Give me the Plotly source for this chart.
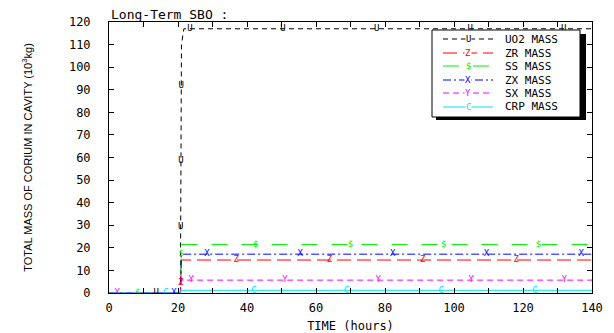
import numpy as np
import plotly.graph_objects as go

# ---- data (time in hours, mass in 10^3 kg) ----
uo2_t = [0, 20.7, 21.0, 21.7, 140]
uo2_y = [0, 0, 110, 117, 117]
uo2_mark_t = [13.7, 20.78, 20.86, 20.95, 23.5, 50.4, 77.6, 104.7, 131.8]

zr_t = [0, 20.7, 21.0, 140]
zr_y = [0, 0, 14.6, 14.6]
zr_mark_t = [20.79, 36.9, 63.9, 90.9, 118.0]

ss_t = [0, 20.7, 21.0, 140]
ss_y = [0, 0, 21.5, 21.5]
ss_mark_t = [8.3, 20.94, 42.5, 70.0, 97.0, 124.5]

zx_t = [0, 20.7, 21.0, 140]
zx_y = [0, 0, 17.2, 17.2]
zx_mark_t = [18.8, 28.4, 55.4, 82.2, 109.4, 136.9]

sx_t = [0, 20.7, 21.0, 140]
sx_y = [0, 0, 5.7, 5.7]
sx_mark_t = [2.4, 23.8, 51.0, 78.0, 105.0, 132.0]

crp_t = [0, 20.7, 21.0, 140]
crp_y = [0, 0, 1.2, 1.2]
crp_mark_t = [16.5, 42.0, 68.8, 96.3, 123.5]

series = [
    ("UO2 MASS", uo2_t, uo2_y, uo2_mark_t, "U", "#000000", "5px,4px"),
    ("ZR MASS", zr_t, zr_y, zr_mark_t, "Z", "#ff0000", "14px,6px"),
    ("SS MASS", ss_t, ss_y, ss_mark_t, "$", "#00ee00", "16px,14px"),
    ("ZX MASS", zx_t, zx_y, zx_mark_t, "X", "#0000ff", "8px,3px,2px,3px"),
    ("SX MASS", sx_t, sx_y, sx_mark_t, "Y", "#ff00ff", "6px,4px"),
    ("CRP MASS", crp_t, crp_y, crp_mark_t, "C", "#00e5ee", "solid"),
]

MONO = "DejaVu Sans Mono"
W, H = 614, 333
ML, MR, MT, MB = 109, 22, 22, 40
PW, PH = W - ML - MR, H - MT - MB


def px_x(px):
    return (px - ML) / PW


def px_y(py):
    return (H - MB - py) / PH


fig = go.Figure()
for name, t, y, mt, letter, color, dash in series:
    fig.add_trace(go.Scatter(
        x=t, y=y, mode="lines", name=name, showlegend=False,
        line=dict(color=color, width=1, dash=dash),
    ))
for name, t, y, mt, letter, color, dash in series:
    my = np.interp(mt, t, y)
    fig.add_trace(go.Scatter(
        x=mt, y=my, mode="text", text=[letter] * len(mt),
        textfont=dict(family=MONO, size=9, color=color),
        showlegend=False, hoverinfo="skip",
    ))

axis_common = dict(
    showline=True, linecolor="black", linewidth=1, mirror="allticks",
    ticks="inside", ticklen=5, tickcolor="black", showgrid=False,
    zeroline=False, automargin=False,
    tickfont=dict(family=MONO, size=12, color="black"),
)

fig.update_xaxes(
    range=[0, 140], tickvals=list(range(0, 141, 20)),
    minor=dict(dtick=10, ticks="inside", ticklen=5, tickcolor="black"),
    ticklabelstandoff=4,
    title=dict(text="TIME (hours)", font=dict(family=MONO, size=12, color="black"), standoff=11),
    **axis_common,
)
fig.update_yaxes(
    range=[0, 120], tickvals=list(range(0, 121, 10)),
    ticklabelstandoff=15,
    title=dict(text="TOTAL MASS OF CORIUM IN CAVITY (10<sup>3</sup>kg)",
               font=dict(family="Liberation Sans Narrow, Liberation Sans", size=11, color="black"),
               standoff=34),
    **axis_common,
)

fig.add_annotation(
    text="Long-Term SBO :", xref="paper", yref="paper", x=0, y=1,
    xanchor="left", yanchor="bottom", showarrow=False, yshift=-2,
    font=dict(family=MONO, size=13, color="black"),
)

# ---- legend drawn by hand (box, shadow, samples, labels) ----
fig.add_shape(type="rect", xref="paper", yref="paper",
              x0=px_x(436), x1=px_x(586), y0=px_y(120), y1=px_y(34),
              fillcolor="black", line=dict(width=0), layer="above")
fig.add_shape(type="rect", xref="paper", yref="paper",
              x0=px_x(432), x1=px_x(580), y0=px_y(117), y1=px_y(30),
              fillcolor="white", line=dict(color="black", width=1), layer="above")
row_py = [39, 53, 66, 80, 93, 107]
for (name, t, y, mt, letter, color, dash), ry in zip(series, row_py):
    fig.add_shape(type="line", xref="paper", yref="paper",
                  x0=px_x(443), x1=px_x(493), y0=px_y(ry), y1=px_y(ry),
                  line=dict(color=color, width=1, dash=dash), layer="above")
    fig.add_annotation(text=letter, xref="paper", yref="paper",
                       x=px_x(468), y=px_y(ry), showarrow=False,
                       xanchor="center", yanchor="middle",
                       font=dict(family=MONO, size=9, color=color),
                       bgcolor="white", borderpad=0)
    fig.add_annotation(text=name, xref="paper", yref="paper",
                       x=px_x(503), y=px_y(ry), showarrow=False,
                       xanchor="left", yanchor="middle",
                       font=dict(family=MONO, size=11, color="black"))

fig.update_layout(
    width=W, height=H,
    margin=dict(l=ML, r=MR, t=MT, b=MB),
    paper_bgcolor="white", plot_bgcolor="white",
    showlegend=False,
)

fig.write_html("out.html")
